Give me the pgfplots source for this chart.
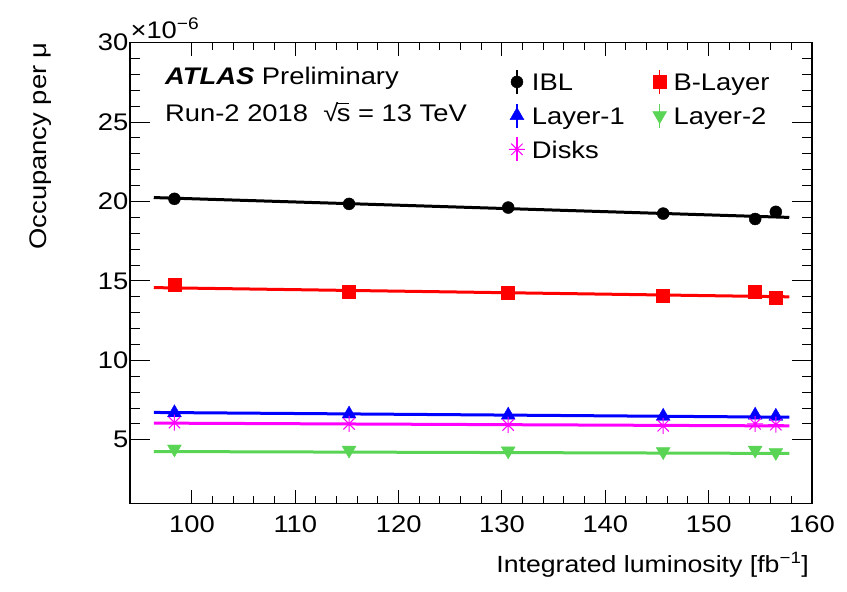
\documentclass[border=0pt]{standalone}
\usepackage{fontspec}
\setmainfont{Liberation Sans}[FakeStretch=1.14]
\usepackage{pgfplots}
\pgfplotsset{compat=1.18}

\definecolor{rootgreen}{RGB}{89,212,84}
\definecolor{rootmagenta}{RGB}{255,0,255}

% eight-ray star marker
\pgfdeclareplotmark{star8}{%
  \pgfpathmoveto{\pgfqpoint{0pt}{\pgfplotmarksize}}%
  \pgfpathlineto{\pgfqpoint{0pt}{-\pgfplotmarksize}}%
  \pgfpathmoveto{\pgfqpoint{\pgfplotmarksize}{0pt}}%
  \pgfpathlineto{\pgfqpoint{-\pgfplotmarksize}{0pt}}%
  \pgfpathmoveto{\pgfqpoint{0.707\pgfplotmarksize}{0.707\pgfplotmarksize}}%
  \pgfpathlineto{\pgfqpoint{-0.707\pgfplotmarksize}{-0.707\pgfplotmarksize}}%
  \pgfpathmoveto{\pgfqpoint{0.707\pgfplotmarksize}{-0.707\pgfplotmarksize}}%
  \pgfpathlineto{\pgfqpoint{-0.707\pgfplotmarksize}{0.707\pgfplotmarksize}}%
  \pgfusepathqstroke}

\newcommand\txt{\fontsize{24}{28}\selectfont}
\newcommand\sqrts{√\kern-1.6pt\rlap{\rule[17.6pt]{12pt}{1pt}}s}

\pgfplotsset{
  pt/.style={only marks,
    legend image code/.code={%
      \draw[##1,line width=1.2pt] (0pt,-12pt) -- (0pt,12pt);
      \path[##1] plot coordinates {(0pt,0pt)};}},
  fit/.style={forget plot, no marks, line width=3pt},
}

% measured occupancy per mu (x 1e-6) versus integrated luminosity
\pgfplotstableread{
lumi  ibl    blayer  layerone  layertwo  disks
98.3  20.17  14.75   6.70      4.42      6.08
115.2 19.85  14.35   6.62      4.35      6.00
130.6 19.62  14.25   6.55      4.30      5.93
145.6 19.24  14.10   6.48      4.25      5.88
154.5 18.90  14.35   6.55      4.35      6.00
156.5 19.35  13.95   6.48      4.20      5.95
}\occupancy

\begin{document}
\begin{tikzpicture}[x=1pt,y=1pt]
% axis carrying the x ticks, the data and the labels
\begin{axis}[
  at={(0,0)}, anchor=south west,
  width=682pt, height=460.6pt, scale only axis,
  xmin=94, xmax=160, ymin=1, ymax=30,
  xtick={100,110,...,160}, minor x tick num=4,
  ytick=\empty,
  tick align=inside,
  major tick length=13pt, minor tick length=7pt,
  axis line style={line width=1.1pt},
  every tick/.style={black, line width=1pt},
  tick label style={font=\txt},
  xticklabel style={inner sep=0pt, yshift=-12pt},
  /pgf/number format/assume math mode=true,
  clip=false,
  legend columns=2,
  legend cell align=left,
  legend style={at={(0.551,0.947)}, anchor=north west, draw=none, fill=none,
    font=\txt\strut, row sep=8.5pt,
    /tikz/every odd column/.append style={column sep=5pt},
    /tikz/every even column/.append style={column sep=26pt}},
]
\addplot[fit, black] coordinates {(96.3,20.25) (157.8,19.00)};
\addplot[fit, red] coordinates {(96.3,14.58) (157.8,14.00)};
\addplot[fit, blue] coordinates {(96.3,6.72) (157.8,6.42)};
\addplot[fit, rootgreen] coordinates {(96.3,4.26) (157.8,4.14)};
\addplot[fit, rootmagenta] coordinates {(96.3,6.05) (157.8,5.87)};

\addplot[pt, black, mark=*, mark size=6pt] table[x=lumi, y=ibl] {\occupancy};
\addlegendentry{IBL}
\addplot[pt, red, mark=square*, mark size=6.5pt] table[x=lumi, y=blayer] {\occupancy};
\addlegendentry{B-Layer}
\addplot[pt, blue, mark=triangle*, mark size=8pt] table[x=lumi, y=layerone] {\occupancy};
\addlegendentry{Layer-1}
\addplot[pt, rootgreen, mark=triangle*, mark size=8pt, mark options={rotate=180}] table[x=lumi, y=layertwo] {\occupancy};
\addlegendentry{Layer-2}
\addplot[pt, rootmagenta, mark=star8, mark size=8pt, line width=1pt] table[x=lumi, y=disks] {\occupancy};
\addlegendentry{Disks}
\end{axis}
% axis carrying the y ticks
\begin{axis}[
  at={(0,0)}, anchor=south west,
  width=682pt, height=460.6pt, scale only axis,
  xmin=94, xmax=160, ymin=1, ymax=30,
  xtick=\empty,
  ytick={5,10,...,30}, minor y tick num=4,
  tick align=inside,
  major tick length=20pt, minor tick length=10pt,
  axis line style={line width=1.1pt},
  every tick/.style={black, line width=1pt},
  tick label style={font=\txt},
  yticklabel style={inner sep=1.5pt},
  /pgf/number format/assume math mode=true,
]
\end{axis}
\node[anchor=base west, font=\txt] at (-3,464.3) {×10\textsuperscript{−6}};
\node[anchor=base west, font=\txt, inner sep=0pt] at (35,418.3) {\textbf{\textit{ATLAS}} Preliminary};
\node[anchor=base west, font=\txt, inner sep=0pt] at (35,381.3) {Run-2 2018\ \ \sqrts\ = 13 TeV};
\node[anchor=base east, font=\txt, rotate=90, inner sep=0pt] at (-83,461.3) {Occupancy per μ};
\node[anchor=base east, font=\fontsize{23.4}{28}\selectfont, inner sep=0pt] at (679,-69.7) {Integrated luminosity [fb\textsuperscript{−1}]};
\path[use as bounding box] (-130,-88.7) rectangle (717,503.3);
\end{tikzpicture}
\end{document}
